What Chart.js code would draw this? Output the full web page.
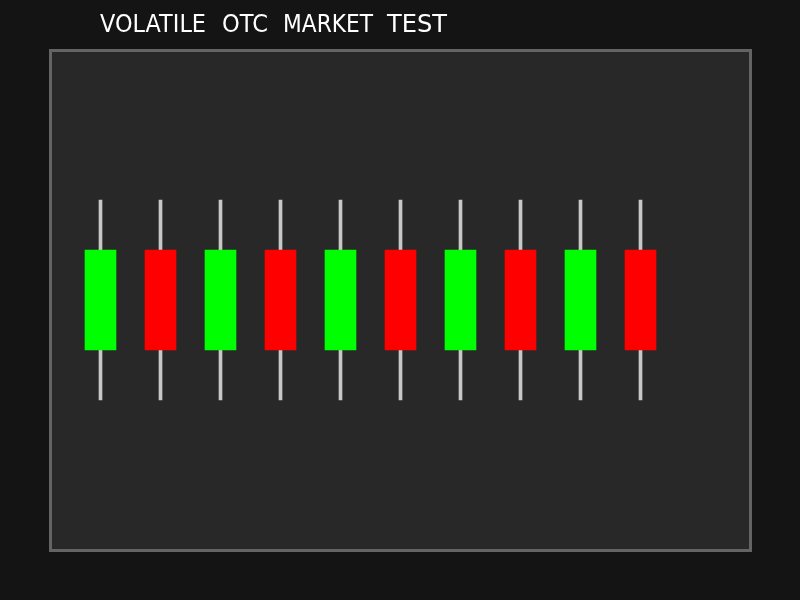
<!DOCTYPE html>
<html>
<head>
<meta charset="utf-8">
<style>
  html, body { margin: 0; padding: 0; background: #141414; }
  canvas { display: block; }
</style>
<script src="https://cdn.jsdelivr.net/npm/chart.js@4/dist/chart.umd.min.js"></script>
</head>
<body>
<canvas id="c" width="800" height="600"></canvas>
<script>
// ---- data ----
const titleText = "VOLATILE OTC MARKET TEST";
const categories = [0, 1, 2, 3, 4, 5, 6, 7, 8, 9];
const opens  = [40, 60, 40, 60, 40, 60, 40, 60, 40, 60];
const closes = [60, 40, 60, 40, 60, 40, 60, 40, 60, 40];
const highs  = [70, 70, 70, 70, 70, 70, 70, 70, 70, 70];
const lows   = [30, 30, 30, 30, 30, 30, 30, 30, 30, 30];

const upColor = "#00ff00";
const downColor = "#ff0000";
const wickColor = "#c8c8c8";

const bodyData = categories.map((c, i) => ({ x: c, y: [opens[i], closes[i]] }));
const wickData = categories.map((c, i) => ({ x: c, y: [lows[i], highs[i]] }));
const bodyColors = categories.map((c, i) => closes[i] >= opens[i] ? upColor : downColor);

const framePlugin = {
  id: "frame",
  beforeDraw(chart) {
    const ctx = chart.ctx;
    const a = chart.chartArea;
    ctx.save();
    ctx.fillStyle = "#141414";
    ctx.fillRect(0, 0, chart.width, chart.height);
    ctx.fillStyle = "#282828";
    ctx.fillRect(a.left, a.top, a.right - a.left, a.bottom - a.top);
    ctx.strokeStyle = "#646464";
    ctx.lineWidth = 3;
    ctx.strokeRect(a.left + 0.5, a.top + 0.5, a.right - a.left, a.bottom - a.top);
    ctx.restore();
    // title, word by word to mimic the wide word spacing
    const words = titleText.split(" ");
    const starts = [100, 222, 283, 387];
    const widths = [106, 46, 90, 60];
    ctx.save();
    ctx.fillStyle = "#ffffff";
    ctx.font = "25px 'DejaVu Sans'";
    ctx.textBaseline = "alphabetic";
    words.forEach((wd, i) => {
      const w = ctx.measureText(wd).width;
      ctx.save();
      ctx.translate(starts[i], 32);
      ctx.scale(widths[i] / w, 1);
      ctx.fillText(wd, 0, 0);
      ctx.restore();
    });
    ctx.restore();
  }
};

const xMin = -50.5 / 60;
const xMax = xMin + 700 / 60;

new Chart(document.getElementById("c"), {
  type: "bar",
  data: {
    datasets: [
      {
        label: "body",
        data: bodyData,
        backgroundColor: bodyColors,
        borderWidth: 0,
        barThickness: 31,
        grouped: false,
        order: 0
      },
      {
        label: "wick",
        data: wickData,
        backgroundColor: wickColor,
        borderWidth: 0,
        barThickness: 3,
        grouped: false,
        order: 1
      }
    ]
  },
  options: {
    responsive: false,
    animation: false,
    devicePixelRatio: 1,
    layout: { padding: { left: 50, right: 50, top: 50, bottom: 50 } },
    plugins: {
      legend: { display: false },
      tooltip: { enabled: false },
      title: { display: false }
    },
    scales: {
      x: { type: "linear", min: xMin, max: xMax, offset: false, bounds: "data", display: false },
      y: { type: "linear", min: 0, max: 100, display: false }
    }
  },
  plugins: [framePlugin]
});
</script>
</body>
</html>
